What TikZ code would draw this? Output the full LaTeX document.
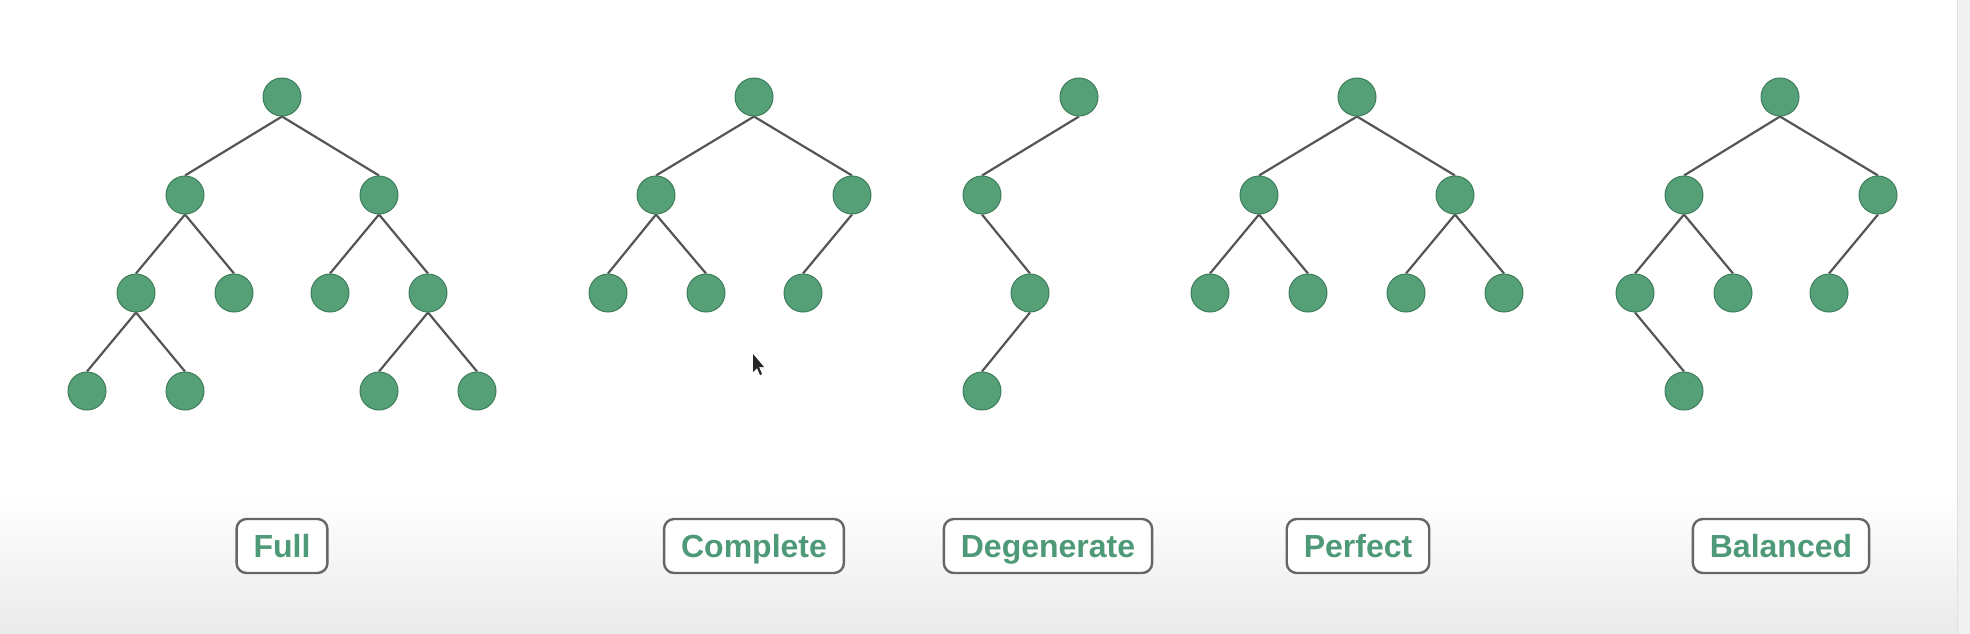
\documentclass[tikz,border=0pt]{standalone}
\usepackage{fontspec}
\setmainfont{Liberation Sans}
\definecolor{nodegreen}{HTML}{55A077}
\definecolor{nodeborder}{HTML}{3E7D5C}
\definecolor{edgegray}{HTML}{555555}
\definecolor{labelgreen}{HTML}{4E9A78}
\definecolor{boxgray}{HTML}{666666}
\definecolor{bggray}{HTML}{EAEAEA}
\pgfdeclarelayer{edgelayer}
\pgfsetlayers{edgelayer,main}
\tikzset{
  tn/.style={circle,fill=nodegreen,draw=nodeborder,line width=1pt,minimum size=38pt,inner sep=0pt},
  ed/.style={draw=edgegray,line width=2.2pt},
  lbl/.style={draw=boxgray,line width=2.4pt,rounded corners=10pt,fill=white,text=labelgreen,
    font=\fontsize{32}{34}\selectfont\bfseries,minimum height=54pt,inner xsep=17pt,inner ysep=0pt,
    text height=23pt,text depth=0pt}
}
\begin{document}
\begin{tikzpicture}[x=1pt,y=-1pt]
\begin{pgfonlayer}{edgelayer}
\useasboundingbox (0,0) rectangle (1970,634);
\fill[white] (0,0) rectangle (1970,634);
\shade[top color=white,bottom color=bggray] (0,495) rectangle (1970,634);
\fill[bggray!70] (1957,0) rectangle (1970,634);
\draw[black!12,line width=1pt] (1957,0) -- (1957,634);
\end{pgfonlayer}
% Full
\node[tn] (f1) at (282,97) {};
\node[tn] (f2) at (185,195) {};
\node[tn] (f3) at (379,195) {};
\node[tn] (f4) at (136,293) {};
\node[tn] (f5) at (234,293) {};
\node[tn] (f6) at (330,293) {};
\node[tn] (f7) at (428,293) {};
\node[tn] (f8) at (87,391) {};
\node[tn] (f9) at (185,391) {};
\node[tn] (f10) at (379,391) {};
\node[tn] (f11) at (477,391) {};
% Complete
\node[tn] (c1) at (754,97) {};
\node[tn] (c2) at (656,195) {};
\node[tn] (c3) at (852,195) {};
\node[tn] (c4) at (608,293) {};
\node[tn] (c5) at (706,293) {};
\node[tn] (c6) at (803,293) {};
% Degenerate
\node[tn] (d1) at (1079,97) {};
\node[tn] (d2) at (982,195) {};
\node[tn] (d3) at (1030,293) {};
\node[tn] (d4) at (982,391) {};
% Perfect
\node[tn] (p1) at (1357,97) {};
\node[tn] (p2) at (1259,195) {};
\node[tn] (p3) at (1455,195) {};
\node[tn] (p4) at (1210,293) {};
\node[tn] (p5) at (1308,293) {};
\node[tn] (p6) at (1406,293) {};
\node[tn] (p7) at (1504,293) {};
% Balanced
\node[tn] (b1) at (1780,97) {};
\node[tn] (b2) at (1684,195) {};
\node[tn] (b3) at (1878,195) {};
\node[tn] (b4) at (1635,293) {};
\node[tn] (b5) at (1733,293) {};
\node[tn] (b6) at (1829,293) {};
\node[tn] (b7) at (1684,391) {};
% edges behind the nodes
\begin{pgfonlayer}{edgelayer}
\foreach \a/\b in {f1/f2,f1/f3,f2/f4,f2/f5,f3/f6,f3/f7,f4/f8,f4/f9,f7/f10,f7/f11,
  c1/c2,c1/c3,c2/c4,c2/c5,c3/c6,
  d1/d2,d2/d3,d3/d4,
  p1/p2,p1/p3,p2/p4,p2/p5,p3/p6,p3/p7,
  b1/b2,b1/b3,b2/b4,b2/b5,b3/b6,b4/b7}
  \draw[ed] (\a.south) -- (\b.north);
\end{pgfonlayer}
% labels
\node[lbl] (lf) at (282,546) {Full};
\node[lbl] (lc) at (754,546) {Complete};
\node[lbl] (ld) at (1048,546) {Degenerate};
\node[lbl] (lp) at (1358,546) {Perfect};
\node[lbl] (lb) at (1781,546) {Balanced};
% cursor
\fill[black!85] (753,354) -- (753,372) -- (757,368) -- (760,375) -- (762,374) -- (759,367) -- (764,367) -- cycle;
\end{tikzpicture}
\end{document}
